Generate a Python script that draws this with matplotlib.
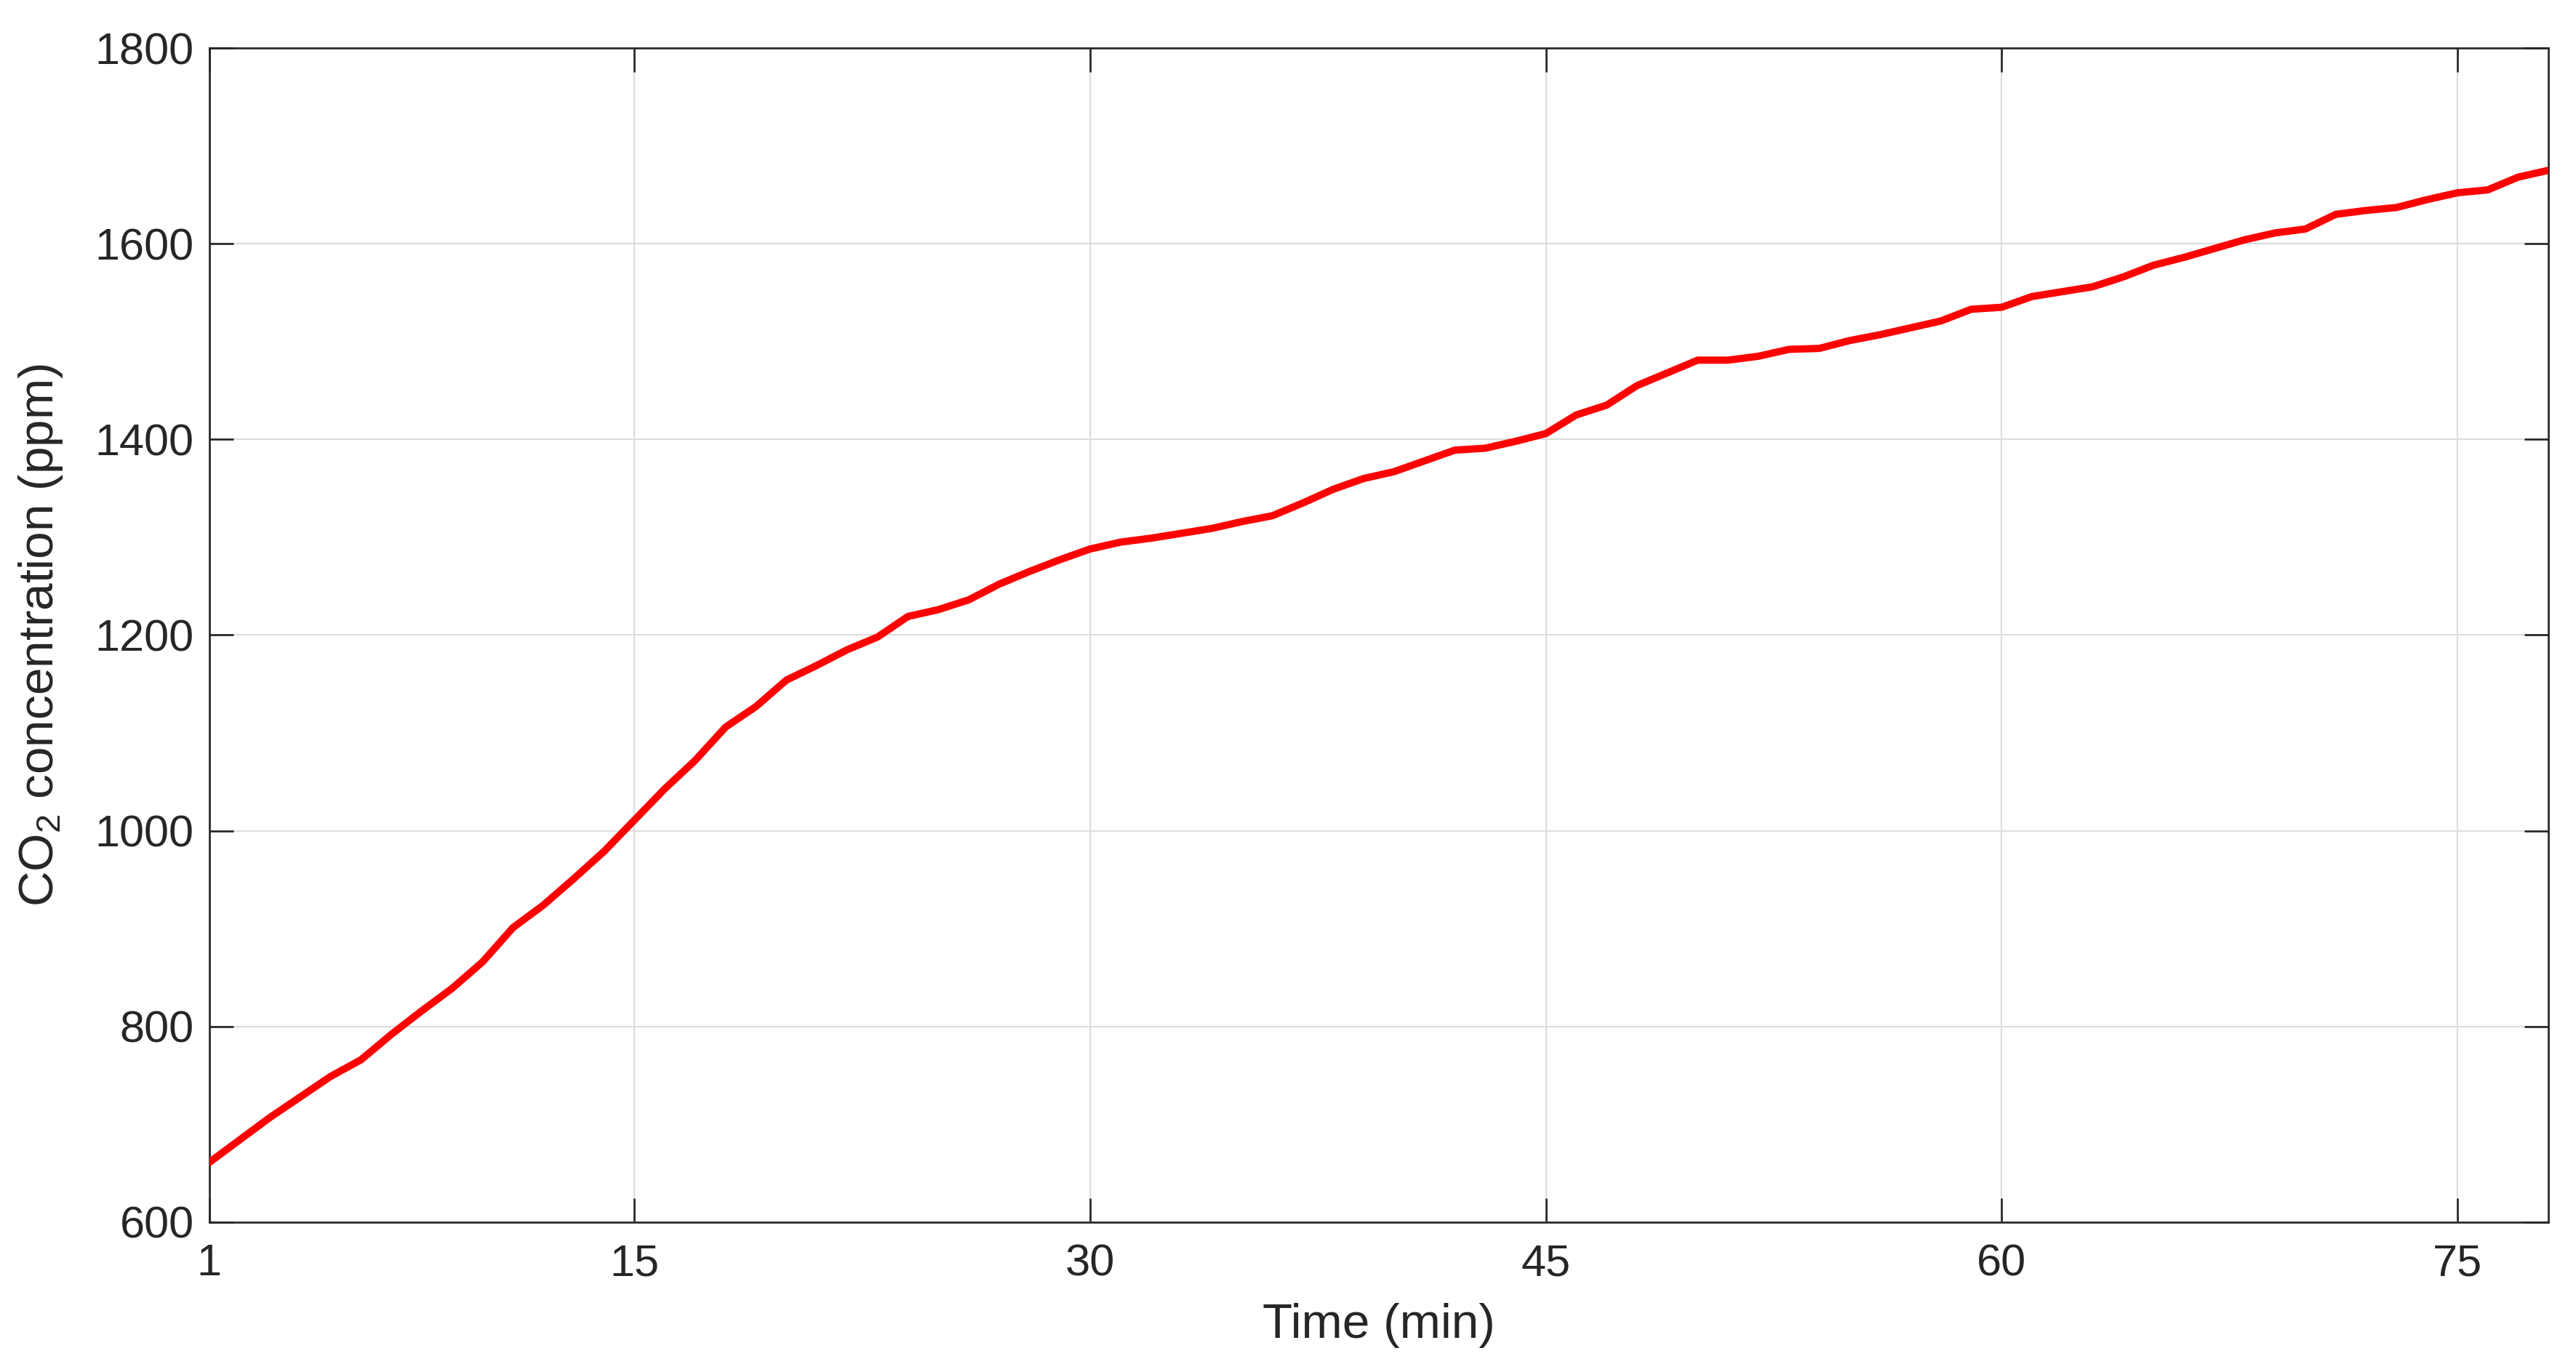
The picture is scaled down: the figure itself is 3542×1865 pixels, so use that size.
import numpy as np
import matplotlib
matplotlib.use("Agg")
import matplotlib.pyplot as plt

plt.rcParams['font.family'] = ['Liberation Sans', 'DejaVu Sans']
plt.rcParams['mathtext.fontset'] = 'custom'
plt.rcParams['mathtext.rm'] = 'Liberation Sans'
plt.rcParams['mathtext.it'] = 'Liberation Sans:italic'

# CO2 readings, one per minute
minutes = np.arange(1, 79)
co2_ppm = [
    661, 684, 707, 728, 749, 766, 792, 816, 839, 866,
    901, 924, 951, 979, 1011, 1043, 1072, 1106, 1127, 1154,
    1169, 1185, 1198, 1219, 1226, 1236, 1252, 1265, 1277, 1288,
    1295, 1299, 1304, 1309, 1316, 1322, 1335, 1349, 1360, 1367,
    1378, 1389, 1391, 1398, 1406, 1425, 1435, 1455, 1468, 1481,
    1481, 1485, 1492, 1493, 1501, 1507, 1514, 1521, 1533, 1535,
    1546, 1551, 1556, 1566, 1578, 1586, 1595, 1604, 1611, 1615,
    1630, 1634, 1637, 1645, 1652, 1655, 1668, 1675,
]
x_ticks = [1, 15, 30, 45, 60, 75]
y_ticks = [600, 800, 1000, 1200, 1400, 1600, 1800]

txt = '#262626'

fig = plt.figure(figsize=(3542 / 300, 1865 / 300), dpi=300)
ax = fig.add_axes([0.0812, 0.0987, 0.9081, 0.8659])

ax.plot(minutes, co2_ppm, color='#ff0000', lw=2.4, zorder=3)

ax.set_xlim(1, 78)
ax.set_ylim(600, 1800)
ax.set_xticks(x_ticks)
ax.set_yticks(y_ticks)

ax.grid(True, color='#dcdcdc', lw=0.5)
ax.set_axisbelow(True)

for s in ax.spines.values():
    s.set_color(txt)
    s.set_linewidth(0.65)

ax.tick_params(direction='in', length=7.9, width=0.65, color=txt,
               labelcolor=txt, labelsize=14.7, top=True, right=True)
ax.tick_params(axis='y', pad=5)
ax.tick_params(axis='x', pad=7)

ax.set_xlabel('Time (min)', fontsize=16.2, color=txt, labelpad=6)
ax.set_ylabel('CO$_2$ concentration (ppm)', fontsize=16.2, color=txt, labelpad=10)

fig.savefig('out.png', dpi=300, facecolor='white')
